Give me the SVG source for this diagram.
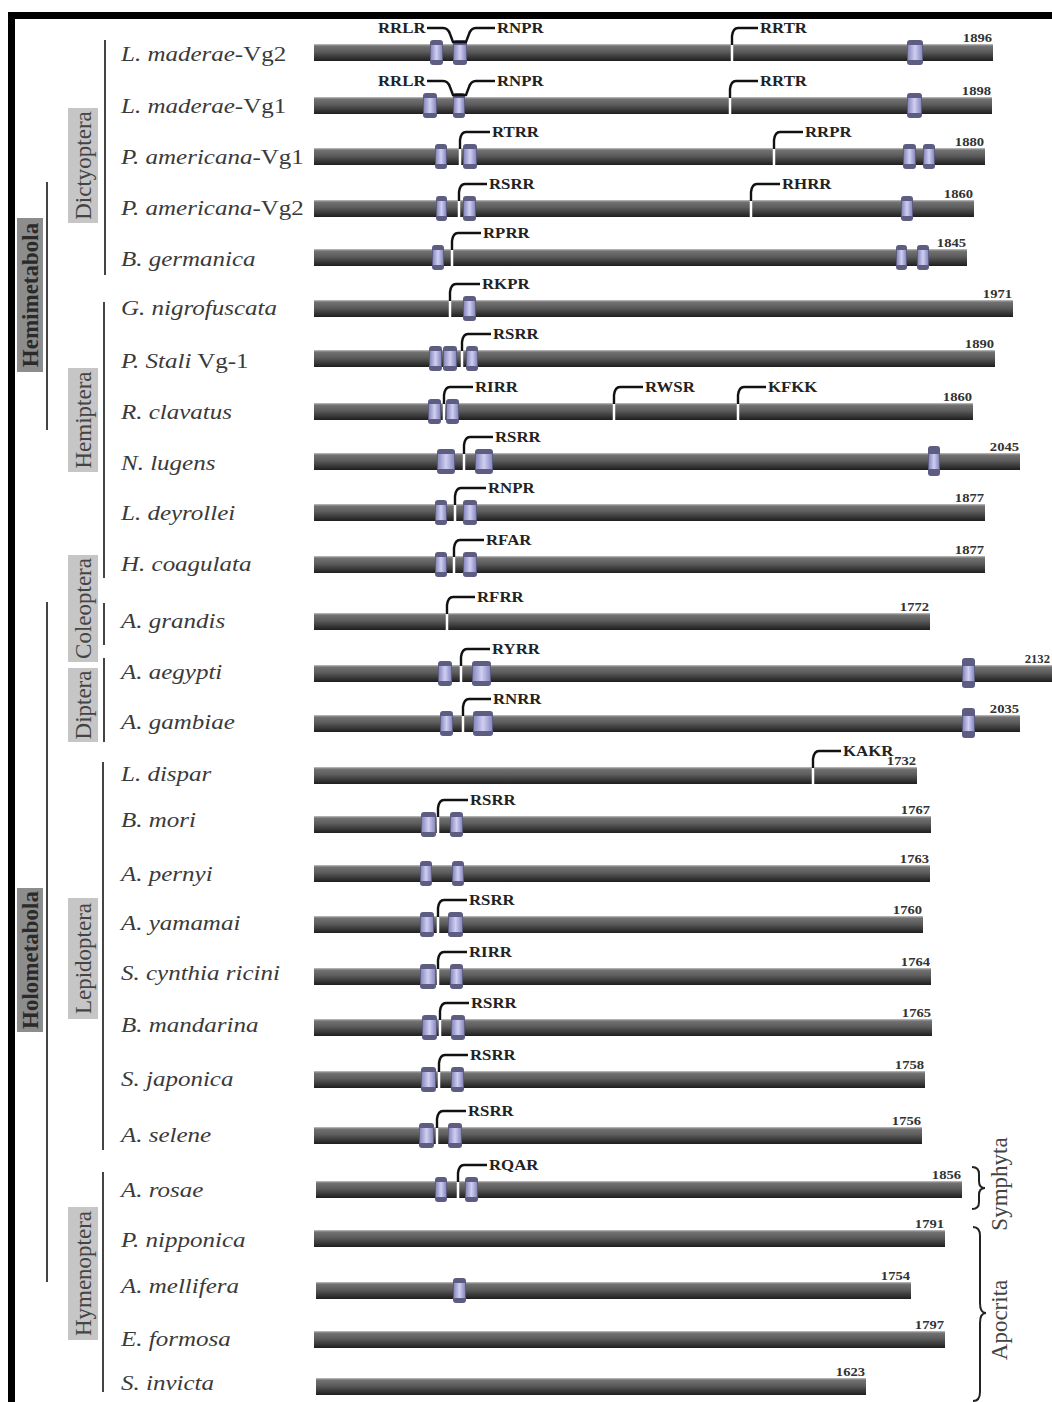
<svg xmlns="http://www.w3.org/2000/svg" width="1052" height="1402" viewBox="0 0 1052 1402">
<defs>
<linearGradient id="barG" x1="0" y1="0" x2="0" y2="1">
<stop offset="0" stop-color="#c4c4c4"/><stop offset="0.12" stop-color="#727272"/><stop offset="0.45" stop-color="#5c5c5c"/><stop offset="0.75" stop-color="#3a3a3a"/><stop offset="1" stop-color="#1e1e1e"/>
</linearGradient>
<linearGradient id="domG" x1="0" y1="0" x2="1" y2="0">
<stop offset="0" stop-color="#8a8abf"/><stop offset="0.5" stop-color="#cfcff2"/><stop offset="1" stop-color="#8a8abf"/>
</linearGradient>
<style>
.bar{fill:url(#barG)}
.dc{fill:#5d5d82}
.db{fill:url(#domG)}
.gap{stroke:#fff;stroke-width:2.5}
.br{fill:none;stroke:#111;stroke-width:2.4}
.lbl{font-family:"Liberation Serif",serif;font-weight:bold;font-size:14px;fill:#222}
.num{font-family:"Liberation Serif",serif;font-weight:bold;font-size:11.5px;fill:#333;text-anchor:end}
.sp{font-family:"Liberation Serif",serif;font-style:italic;font-size:20px;fill:#3a3a3a}
.rm{font-style:normal}
.ord{font-family:"Liberation Serif",serif;font-size:23px;fill:#444;text-anchor:middle}
.sup{font-family:"Liberation Serif",serif;font-weight:bold;font-size:23px;fill:#2a2a2a;text-anchor:middle}
.obox{fill:#c6c6c6}
.sbox{fill:#8d8d8d}
.vl{stroke:#444;stroke-width:2}
.brace{fill:none;stroke:#222;stroke-width:2}
</style>
</defs>
<rect width="1052" height="1402" fill="#fff"/>
<rect x="8" y="12" width="1044" height="7" fill="#000"/>
<rect x="8" y="12" width="7" height="1390" fill="#000"/>

<g id="groups">
<g id="hemimetabola"><rect class="sbox" x="17" y="218" width="26" height="154"/><text class="sup" transform="translate(30,295) rotate(-90)" y="8">Hemimetabola</text></g>
<g id="holometabola"><rect class="sbox" x="17" y="888" width="26" height="144"/><text class="sup" transform="translate(30,960) rotate(-90)" y="8">Holometabola</text></g>
<g id="dictyoptera"><rect class="obox" x="68" y="108" width="30" height="115"/><text class="ord" transform="translate(83,165.5) rotate(-90)" y="8">Dictyoptera</text></g>
<g id="hemiptera"><rect class="obox" x="68" y="368" width="30" height="104"/><text class="ord" transform="translate(83,420) rotate(-90)" y="8">Hemiptera</text></g>
<g id="coleoptera"><rect class="obox" x="68" y="555" width="30" height="107"/><text class="ord" transform="translate(83,608.5) rotate(-90)" y="8">Coleoptera</text></g>
<g id="diptera"><rect class="obox" x="68" y="668" width="30" height="74"/><text class="ord" transform="translate(83,705) rotate(-90)" y="8">Diptera</text></g>
<g id="lepidoptera"><rect class="obox" x="68" y="898" width="30" height="121"/><text class="ord" transform="translate(83,958.5) rotate(-90)" y="8">Lepidoptera</text></g>
<g id="hymenoptera"><rect class="obox" x="68" y="1207" width="30" height="133"/><text class="ord" transform="translate(83,1273.5) rotate(-90)" y="8">Hymenoptera</text></g>
<g id="symphyta"><text class="ord" transform="translate(999,1184) rotate(-90)" y="8">Symphyta</text></g>
<g id="apocrita"><text class="ord" transform="translate(999,1320) rotate(-90)" y="8">Apocrita</text></g>
</g>

<g id="connectors">
<line class="vl" x1="47" y1="182" x2="47" y2="430"/>
<line class="vl" x1="47" y1="602" x2="47" y2="1282"/>
<line class="vl" x1="105" y1="40" x2="105" y2="275"/>
<line class="vl" x1="104" y1="302" x2="104" y2="578"/>
<line class="vl" x1="104" y1="603" x2="104" y2="645"/>
<line class="vl" x1="104" y1="658" x2="104" y2="742"/>
<line class="vl" x1="103" y1="762" x2="103" y2="1150"/>
<line class="vl" x1="103" y1="1172" x2="103" y2="1392"/>
<path class="brace" d="M972,1167 Q979,1167 979,1174 V1181 Q979,1188 985,1188 Q979,1188 979,1195 V1202 Q979,1209 972,1209"/>
<path class="brace" d="M973,1227 Q980,1227 980,1236 V1303 Q980,1313 986,1313 Q980,1313 980,1323 V1392 Q980,1401 973,1401"/>
</g>

<!-- Row 1 -->
<g id="r1">
<text class="sp" transform="matrix(1.25 0 0 1 121 61)">L. maderae<tspan class="rm">-Vg2</tspan></text>
<rect class="bar" x="314" y="44" width="679" height="17"/>
<rect class="dc" x="430" y="40" width="13" height="25" rx="3"/><rect class="db" x="431" y="45" width="11" height="15"/>
<rect class="dc" x="453" y="40" width="14" height="25" rx="3"/><rect class="db" x="454" y="45" width="12" height="15"/>
<rect class="dc" x="907" y="40" width="16" height="25" rx="3"/><rect class="db" x="908" y="45" width="14" height="15"/>
<line class="gap" x1="732" y1="44" x2="732" y2="61"/>
<path class="br" d="M758,28 H738 Q733,28 732,36 V45"/>
<text class="lbl" transform="matrix(1.2 0 0 1 760 33)">RRTR</text>
<path class="br" d="M427,28 H443 Q448,28 450,34 L453,42 H466 L469,34 Q471,28 476,28 H495"/>
<text class="lbl" transform="matrix(1.2 0 0 1 378 33)">RRLR</text>
<text class="lbl" transform="matrix(1.2 0 0 1 497 33)">RNPR</text>
<text class="num" transform="matrix(1.27 0 0 1 992 42)">1896</text>
</g>
<!-- Row 2 -->
<g id="r2">
<text class="sp" transform="matrix(1.25 0 0 1 121 113)">L. maderae<tspan class="rm">-Vg1</tspan></text>
<rect class="bar" x="314" y="97" width="678" height="17"/>
<rect class="dc" x="423" y="93" width="14" height="25" rx="3"/><rect class="db" x="424" y="98" width="12" height="15"/>
<rect class="dc" x="453" y="93" width="12" height="25" rx="3"/><rect class="db" x="454" y="98" width="10" height="15"/>
<rect class="dc" x="907" y="93" width="15" height="25" rx="3"/><rect class="db" x="908" y="98" width="13" height="15"/>
<line class="gap" x1="730" y1="97" x2="730" y2="114"/>
<path class="br" d="M758,81 H736 Q731,81 730,89 V98"/>
<text class="lbl" transform="matrix(1.2 0 0 1 760 86)">RRTR</text>
<path class="br" d="M427,81 H443 Q448,81 450,87 L453,95 H466 L469,87 Q471,81 476,81 H495"/>
<text class="lbl" transform="matrix(1.2 0 0 1 378 86)">RRLR</text>
<text class="lbl" transform="matrix(1.2 0 0 1 497 86)">RNPR</text>
<text class="num" transform="matrix(1.27 0 0 1 991 95)">1898</text>
</g>
<!-- Row 3 -->
<g id="r3">
<text class="sp" transform="matrix(1.25 0 0 1 121 164)">P. americana<tspan class="rm">-Vg1</tspan></text>
<rect class="bar" x="314" y="148" width="671" height="17"/>
<rect class="dc" x="435" y="144" width="12" height="25" rx="3"/><rect class="db" x="436" y="149" width="10" height="15"/>
<rect class="dc" x="463" y="144" width="14" height="25" rx="3"/><rect class="db" x="464" y="149" width="12" height="15"/>
<rect class="dc" x="903" y="144" width="13" height="25" rx="3"/><rect class="db" x="904" y="149" width="11" height="15"/>
<rect class="dc" x="923" y="144" width="12" height="25" rx="3"/><rect class="db" x="924" y="149" width="10" height="15"/>
<line class="gap" x1="460" y1="148" x2="460" y2="165"/>
<path class="br" d="M490,132 H466 Q461,132 460,140 V149"/>
<text class="lbl" transform="matrix(1.2 0 0 1 492 137)">RTRR</text>
<line class="gap" x1="774" y1="148" x2="774" y2="165"/>
<path class="br" d="M803,132 H780 Q775,132 774,140 V149"/>
<text class="lbl" transform="matrix(1.2 0 0 1 805 137)">RRPR</text>
<text class="num" transform="matrix(1.27 0 0 1 984 146)">1880</text>
</g>
<!-- Row 4 -->
<g id="r4">
<text class="sp" transform="matrix(1.25 0 0 1 121 215)">P. americana<tspan class="rm">-Vg2</tspan></text>
<rect class="bar" x="314" y="200" width="660" height="17"/>
<rect class="dc" x="436" y="196" width="11" height="25" rx="3"/><rect class="db" x="437" y="201" width="9" height="15"/>
<rect class="dc" x="463" y="196" width="13" height="25" rx="3"/><rect class="db" x="464" y="201" width="11" height="15"/>
<rect class="dc" x="901" y="196" width="12" height="25" rx="3"/><rect class="db" x="902" y="201" width="10" height="15"/>
<line class="gap" x1="459" y1="200" x2="459" y2="217"/>
<path class="br" d="M487,184 H465 Q460,184 459,192 V201"/>
<text class="lbl" transform="matrix(1.2 0 0 1 489 189)">RSRR</text>
<line class="gap" x1="751" y1="200" x2="751" y2="217"/>
<path class="br" d="M780,184 H757 Q752,184 751,192 V201"/>
<text class="lbl" transform="matrix(1.2 0 0 1 782 189)">RHRR</text>
<text class="num" transform="matrix(1.27 0 0 1 973 198)">1860</text>
</g>
<!-- Row 5 -->
<g id="r5">
<text class="sp" transform="matrix(1.25 0 0 1 121 266)">B. germanica</text>
<rect class="bar" x="314" y="249" width="653" height="17"/>
<rect class="dc" x="432" y="245" width="12" height="25" rx="3"/><rect class="db" x="433" y="250" width="10" height="15"/>
<rect class="dc" x="896" y="245" width="11" height="25" rx="3"/><rect class="db" x="897" y="250" width="9" height="15"/>
<rect class="dc" x="917" y="245" width="12" height="25" rx="3"/><rect class="db" x="918" y="250" width="10" height="15"/>
<line class="gap" x1="452" y1="249" x2="452" y2="266"/>
<path class="br" d="M481,233 H458 Q453,233 452,241 V250"/>
<text class="lbl" transform="matrix(1.2 0 0 1 483 238)">RPRR</text>
<text class="num" transform="matrix(1.27 0 0 1 966 247)">1845</text>
</g>
<!-- Row 6 -->
<g id="r6">
<text class="sp" transform="matrix(1.25 0 0 1 121 315)">G. nigrofuscata</text>
<rect class="bar" x="314" y="300" width="699" height="17"/>
<rect class="dc" x="463" y="296" width="13" height="25" rx="3"/><rect class="db" x="464" y="301" width="11" height="15"/>
<line class="gap" x1="450" y1="300" x2="450" y2="317"/>
<path class="br" d="M480,284 H456 Q451,284 450,292 V301"/>
<text class="lbl" transform="matrix(1.2 0 0 1 482 289)">RKPR</text>
<text class="num" transform="matrix(1.27 0 0 1 1012 298)">1971</text>
</g>
<!-- Row 7 -->
<g id="r7">
<text class="sp" transform="matrix(1.25 0 0 1 121 368)">P. Stali<tspan class="rm"> Vg-1</tspan></text>
<rect class="bar" x="314" y="350" width="681" height="17"/>
<rect class="dc" x="429" y="346" width="13" height="25" rx="3"/><rect class="db" x="430" y="351" width="11" height="15"/>
<rect class="dc" x="443" y="346" width="14" height="25" rx="3"/><rect class="db" x="444" y="351" width="12" height="15"/>
<rect class="dc" x="466" y="346" width="12" height="25" rx="3"/><rect class="db" x="467" y="351" width="10" height="15"/>
<line class="gap" x1="462" y1="350" x2="462" y2="367"/>
<path class="br" d="M491,334 H468 Q463,334 462,342 V351"/>
<text class="lbl" transform="matrix(1.2 0 0 1 493 339)">RSRR</text>
<text class="num" transform="matrix(1.27 0 0 1 994 348)">1890</text>
</g>
<!-- Row 8 -->
<g id="r8">
<text class="sp" transform="matrix(1.25 0 0 1 121 419)">R. clavatus</text>
<rect class="bar" x="314" y="403" width="659" height="17"/>
<rect class="dc" x="428" y="399" width="13" height="25" rx="3"/><rect class="db" x="429" y="404" width="11" height="15"/>
<rect class="dc" x="446" y="399" width="13" height="25" rx="3"/><rect class="db" x="447" y="404" width="11" height="15"/>
<line class="gap" x1="444" y1="403" x2="444" y2="420"/>
<path class="br" d="M473,387 H450 Q445,387 444,395 V404"/>
<text class="lbl" transform="matrix(1.2 0 0 1 475 392)">RIRR</text>
<line class="gap" x1="614" y1="403" x2="614" y2="420"/>
<path class="br" d="M643,387 H620 Q615,387 614,395 V404"/>
<text class="lbl" transform="matrix(1.2 0 0 1 645 392)">RWSR</text>
<line class="gap" x1="738" y1="403" x2="738" y2="420"/>
<path class="br" d="M766,387 H744 Q739,387 738,395 V404"/>
<text class="lbl" transform="matrix(1.2 0 0 1 768 392)">KFKK</text>
<text class="num" transform="matrix(1.27 0 0 1 972 401)">1860</text>
</g>
<!-- Row 9 -->
<g id="r9">
<text class="sp" transform="matrix(1.25 0 0 1 121 470)">N. lugens</text>
<rect class="bar" x="314" y="453" width="706" height="17"/>
<rect class="dc" x="437" y="449" width="18" height="25" rx="3"/><rect class="db" x="438" y="454" width="16" height="15"/>
<rect class="dc" x="475" y="449" width="18" height="25" rx="3"/><rect class="db" x="476" y="454" width="16" height="15"/>
<rect class="dc" x="928" y="446" width="12" height="30" rx="3"/><rect class="db" x="929" y="454" width="10" height="15"/>
<line class="gap" x1="464" y1="453" x2="464" y2="470"/>
<path class="br" d="M493,437 H470 Q465,437 464,445 V454"/>
<text class="lbl" transform="matrix(1.2 0 0 1 495 442)">RSRR</text>
<text class="num" transform="matrix(1.27 0 0 1 1019 451)">2045</text>
</g>
<!-- Row 10 -->
<g id="r10">
<text class="sp" transform="matrix(1.25 0 0 1 121 520)">L. deyrollei</text>
<rect class="bar" x="314" y="504" width="671" height="17"/>
<rect class="dc" x="435" y="500" width="12" height="25" rx="3"/><rect class="db" x="436" y="505" width="10" height="15"/>
<rect class="dc" x="463" y="500" width="14" height="25" rx="3"/><rect class="db" x="464" y="505" width="12" height="15"/>
<line class="gap" x1="455" y1="504" x2="455" y2="521"/>
<path class="br" d="M486,488 H461 Q456,488 455,496 V505"/>
<text class="lbl" transform="matrix(1.2 0 0 1 488 493)">RNPR</text>
<text class="num" transform="matrix(1.27 0 0 1 984 502)">1877</text>
</g>
<!-- Row 11 -->
<g id="r11">
<text class="sp" transform="matrix(1.25 0 0 1 121 571)">H. coagulata</text>
<rect class="bar" x="314" y="556" width="671" height="17"/>
<rect class="dc" x="435" y="552" width="12" height="25" rx="3"/><rect class="db" x="436" y="557" width="10" height="15"/>
<rect class="dc" x="463" y="552" width="14" height="25" rx="3"/><rect class="db" x="464" y="557" width="12" height="15"/>
<line class="gap" x1="454" y1="556" x2="454" y2="573"/>
<path class="br" d="M484,540 H460 Q455,540 454,548 V557"/>
<text class="lbl" transform="matrix(1.2 0 0 1 486 545)">RFAR</text>
<text class="num" transform="matrix(1.27 0 0 1 984 554)">1877</text>
</g>
<!-- Row 12 -->
<g id="r12">
<text class="sp" transform="matrix(1.25 0 0 1 121 628)">A. grandis</text>
<rect class="bar" x="314" y="613" width="616" height="17"/>
<line class="gap" x1="447" y1="613" x2="447" y2="630"/>
<path class="br" d="M475,597 H453 Q448,597 447,605 V614"/>
<text class="lbl" transform="matrix(1.2 0 0 1 477 602)">RFRR</text>
<text class="num" transform="matrix(1.27 0 0 1 929 611)">1772</text>
</g>
<!-- Row 13 -->
<g id="r13">
<text class="sp" transform="matrix(1.25 0 0 1 121 679)">A. aegypti</text>
<rect class="bar" x="314" y="665" width="740" height="17"/>
<rect class="dc" x="438" y="661" width="14" height="25" rx="3"/><rect class="db" x="439" y="666" width="12" height="15"/>
<rect class="dc" x="472" y="661" width="19" height="25" rx="3"/><rect class="db" x="473" y="666" width="17" height="15"/>
<rect class="dc" x="962" y="658" width="13" height="30" rx="3"/><rect class="db" x="963" y="666" width="11" height="15"/>
<line class="gap" x1="461" y1="665" x2="461" y2="682"/>
<path class="br" d="M490,649 H467 Q462,649 461,657 V666"/>
<text class="lbl" transform="matrix(1.2 0 0 1 492 654)">RYRR</text>
<text class="num" transform="matrix(1.1 0 0 1 1050 663)">2132</text>
</g>
<!-- Row 14 -->
<g id="r14">
<text class="sp" transform="matrix(1.25 0 0 1 121 729)">A. gambiae</text>
<rect class="bar" x="314" y="715" width="706" height="17"/>
<rect class="dc" x="440" y="711" width="13" height="25" rx="3"/><rect class="db" x="441" y="716" width="11" height="15"/>
<rect class="dc" x="473" y="711" width="20" height="25" rx="3"/><rect class="db" x="474" y="716" width="18" height="15"/>
<rect class="dc" x="962" y="708" width="13" height="30" rx="3"/><rect class="db" x="963" y="716" width="11" height="15"/>
<line class="gap" x1="463" y1="715" x2="463" y2="732"/>
<path class="br" d="M491,699 H469 Q464,699 463,707 V716"/>
<text class="lbl" transform="matrix(1.2 0 0 1 493 704)">RNRR</text>
<text class="num" transform="matrix(1.27 0 0 1 1019 713)">2035</text>
</g>
<!-- Row 15 -->
<g id="r15">
<text class="sp" transform="matrix(1.25 0 0 1 121 781)">L. dispar</text>
<rect class="bar" x="314" y="767" width="603" height="17"/>
<line class="gap" x1="813" y1="767" x2="813" y2="784"/>
<path class="br" d="M841,751 H819 Q814,751 813,759 V768"/>
<text class="lbl" transform="matrix(1.2 0 0 1 843 756)">KAKR</text>
<text class="num" transform="matrix(1.27 0 0 1 916 765)">1732</text>
</g>
<!-- Row 16 -->
<g id="r16">
<text class="sp" transform="matrix(1.25 0 0 1 121 827)">B. mori</text>
<rect class="bar" x="314" y="816" width="617" height="17"/>
<rect class="dc" x="421" y="812" width="15" height="25" rx="3"/><rect class="db" x="422" y="817" width="13" height="15"/>
<rect class="dc" x="450" y="812" width="13" height="25" rx="3"/><rect class="db" x="451" y="817" width="11" height="15"/>
<line class="gap" x1="438" y1="816" x2="438" y2="833"/>
<path class="br" d="M468,800 H444 Q439,800 438,808 V817"/>
<text class="lbl" transform="matrix(1.2 0 0 1 470 805)">RSRR</text>
<text class="num" transform="matrix(1.27 0 0 1 930 814)">1767</text>
</g>
<!-- Row 17 -->
<g id="r17">
<text class="sp" transform="matrix(1.25 0 0 1 121 881)">A. pernyi</text>
<rect class="bar" x="314" y="865" width="616" height="17"/>
<rect class="dc" x="420" y="861" width="12" height="25" rx="3"/><rect class="db" x="421" y="866" width="10" height="15"/>
<rect class="dc" x="452" y="861" width="12" height="25" rx="3"/><rect class="db" x="453" y="866" width="10" height="15"/>
<text class="num" transform="matrix(1.27 0 0 1 929 863)">1763</text>
</g>
<!-- Row 18 -->
<g id="r18">
<text class="sp" transform="matrix(1.25 0 0 1 121 930)">A. yamamai</text>
<rect class="bar" x="314" y="916" width="609" height="17"/>
<rect class="dc" x="420" y="912" width="14" height="25" rx="3"/><rect class="db" x="421" y="917" width="12" height="15"/>
<rect class="dc" x="448" y="912" width="15" height="25" rx="3"/><rect class="db" x="449" y="917" width="13" height="15"/>
<line class="gap" x1="438" y1="916" x2="438" y2="933"/>
<path class="br" d="M467,900 H444 Q439,900 438,908 V917"/>
<text class="lbl" transform="matrix(1.2 0 0 1 469 905)">RSRR</text>
<text class="num" transform="matrix(1.27 0 0 1 922 914)">1760</text>
</g>
<!-- Row 19 -->
<g id="r19">
<text class="sp" transform="matrix(1.25 0 0 1 121 980)">S. cynthia ricini</text>
<rect class="bar" x="314" y="968" width="617" height="17"/>
<rect class="dc" x="420" y="964" width="16" height="25" rx="3"/><rect class="db" x="421" y="969" width="14" height="15"/>
<rect class="dc" x="450" y="964" width="13" height="25" rx="3"/><rect class="db" x="451" y="969" width="11" height="15"/>
<line class="gap" x1="438" y1="968" x2="438" y2="985"/>
<path class="br" d="M467,952 H444 Q439,952 438,960 V969"/>
<text class="lbl" transform="matrix(1.2 0 0 1 469 957)">RIRR</text>
<text class="num" transform="matrix(1.27 0 0 1 930 966)">1764</text>
</g>
<!-- Row 20 -->
<g id="r20">
<text class="sp" transform="matrix(1.25 0 0 1 121 1032)">B. mandarina</text>
<rect class="bar" x="314" y="1019" width="618" height="17"/>
<rect class="dc" x="422" y="1015" width="15" height="25" rx="3"/><rect class="db" x="423" y="1020" width="13" height="15"/>
<rect class="dc" x="451" y="1015" width="14" height="25" rx="3"/><rect class="db" x="452" y="1020" width="12" height="15"/>
<line class="gap" x1="440" y1="1019" x2="440" y2="1036"/>
<path class="br" d="M469,1003 H446 Q441,1003 440,1011 V1020"/>
<text class="lbl" transform="matrix(1.2 0 0 1 471 1008)">RSRR</text>
<text class="num" transform="matrix(1.27 0 0 1 931 1017)">1765</text>
</g>
<!-- Row 21 -->
<g id="r21">
<text class="sp" transform="matrix(1.25 0 0 1 121 1086)">S. japonica</text>
<rect class="bar" x="314" y="1071" width="611" height="17"/>
<rect class="dc" x="421" y="1067" width="15" height="25" rx="3"/><rect class="db" x="422" y="1072" width="13" height="15"/>
<rect class="dc" x="451" y="1067" width="13" height="25" rx="3"/><rect class="db" x="452" y="1072" width="11" height="15"/>
<line class="gap" x1="439" y1="1071" x2="439" y2="1088"/>
<path class="br" d="M468,1055 H445 Q440,1055 439,1063 V1072"/>
<text class="lbl" transform="matrix(1.2 0 0 1 470 1060)">RSRR</text>
<text class="num" transform="matrix(1.27 0 0 1 924 1069)">1758</text>
</g>
<!-- Row 22 -->
<g id="r22">
<text class="sp" transform="matrix(1.25 0 0 1 121 1142)">A. selene</text>
<rect class="bar" x="314" y="1127" width="608" height="17"/>
<rect class="dc" x="419" y="1123" width="15" height="25" rx="3"/><rect class="db" x="420" y="1128" width="13" height="15"/>
<rect class="dc" x="448" y="1123" width="14" height="25" rx="3"/><rect class="db" x="449" y="1128" width="12" height="15"/>
<line class="gap" x1="437" y1="1127" x2="437" y2="1144"/>
<path class="br" d="M466,1111 H443 Q438,1111 437,1119 V1128"/>
<text class="lbl" transform="matrix(1.2 0 0 1 468 1116)">RSRR</text>
<text class="num" transform="matrix(1.27 0 0 1 921 1125)">1756</text>
</g>
<!-- Row 23 -->
<g id="r23">
<text class="sp" transform="matrix(1.25 0 0 1 121 1197)">A. rosae</text>
<rect class="bar" x="316" y="1181" width="646" height="17"/>
<rect class="dc" x="435" y="1177" width="12" height="25" rx="3"/><rect class="db" x="436" y="1182" width="10" height="15"/>
<rect class="dc" x="465" y="1177" width="13" height="25" rx="3"/><rect class="db" x="466" y="1182" width="11" height="15"/>
<line class="gap" x1="458" y1="1181" x2="458" y2="1198"/>
<path class="br" d="M487,1165 H464 Q459,1165 458,1173 V1182"/>
<text class="lbl" transform="matrix(1.2 0 0 1 489 1170)">RQAR</text>
<text class="num" transform="matrix(1.27 0 0 1 961 1179)">1856</text>
</g>
<!-- Row 24 -->
<g id="r24">
<text class="sp" transform="matrix(1.25 0 0 1 121 1247)">P. nipponica</text>
<rect class="bar" x="314" y="1230" width="631" height="17"/>
<text class="num" transform="matrix(1.27 0 0 1 944 1228)">1791</text>
</g>
<!-- Row 25 -->
<g id="r25">
<text class="sp" transform="matrix(1.25 0 0 1 121 1293)">A. mellifera</text>
<rect class="bar" x="316" y="1282" width="595" height="17"/>
<rect class="dc" x="453" y="1278" width="13" height="25" rx="3"/><rect class="db" x="454" y="1283" width="11" height="15"/>
<text class="num" transform="matrix(1.27 0 0 1 910 1280)">1754</text>
</g>
<!-- Row 26 -->
<g id="r26">
<text class="sp" transform="matrix(1.25 0 0 1 121 1346)">E. formosa</text>
<rect class="bar" x="314" y="1331" width="631" height="17"/>
<text class="num" transform="matrix(1.27 0 0 1 944 1329)">1797</text>
</g>
<!-- Row 27 -->
<g id="r27">
<text class="sp" transform="matrix(1.25 0 0 1 121 1390)">S. invicta</text>
<rect class="bar" x="316" y="1378" width="550" height="17"/>
<text class="num" transform="matrix(1.27 0 0 1 865 1376)">1623</text>
</g>
</svg>
